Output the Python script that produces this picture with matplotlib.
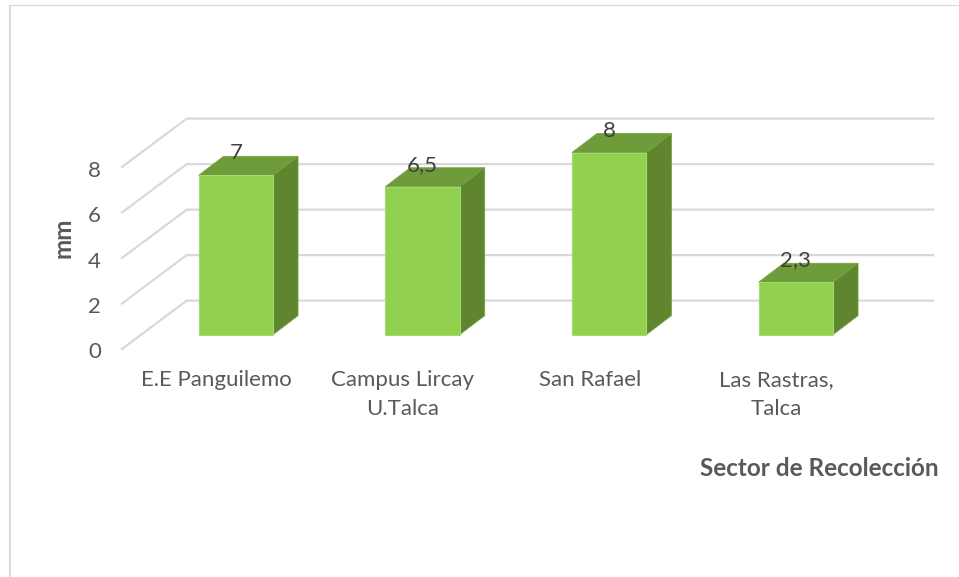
import matplotlib
matplotlib.use("Agg")
import matplotlib.pyplot as plt
from matplotlib.patches import Polygon

categories = ["E.E Panguilemo", "Campus Lircay\nU.Talca", "San Rafael", "Las Rastras,\nTalca"]
values = [7, 6.5, 8, 2.3]
value_labels = ["7", "6,5", "8", "2,3"]
y_ticks = [0, 2, 4, 6, 8]

W, H = 959, 577
plt.rcParams['font.family'] = ['Lato', 'DejaVu Sans']
fig = plt.figure(figsize=(W / 100, H / 100), dpi=100, facecolor="white")
ax = fig.add_axes([0, 0, 1, 1])

# Scales: one category = 186.67 px, one mm = 22.75 px
PX_CAT, PX_VAL = 186.67, 22.75
X0_PX, Y0_PX = 235.8, 349.0
ax.set_xlim((0 - X0_PX) / PX_CAT, (W - X0_PX) / PX_CAT)
ax.set_ylim((Y0_PX - H) / PX_VAL, Y0_PX / PX_VAL)
ax.axis("off")

def fx(px):
    return px / PX_CAT

def fy(px):
    return px / PX_VAL

# Floor / wall geometry
wall_left = (122 - X0_PX) / PX_CAT
wall_dx, wall_dy = fx(64.7), fy(48.4)
wall_right = (933 - X0_PX) / PX_CAT
GRID = "#d9d9d9"
for t in y_ticks:
    ax.plot([wall_left, wall_left + wall_dx, wall_right],
            [t, t + wall_dy, t + wall_dy],
            color=GRID, lw=1.6, solid_joinstyle="miter", zorder=1)
    ax.text(wall_left - fx(21), t - fy(3.5), str(t), ha="right", va="center",
            fontsize=16, color="#595959")

# 3D bars
half_w = fx(37.2)
bar_dx, bar_dy = fx(25), fy(19)
base = fy(14.4)
EDGE = "#a4dc6c"
for i, v in enumerate(values):
    l, r = i - half_w, i + half_w
    b, t = base, base + v
    ax.add_patch(Polygon([(r, b), (r + bar_dx, b + bar_dy), (r + bar_dx, t + bar_dy), (r, t)],
                         fc="#5f862f", ec="#6f9c3a", lw=0.6, zorder=3))
    ax.add_patch(Polygon([(l, t), (r, t), (r + bar_dx, t + bar_dy), (l + bar_dx, t + bar_dy)],
                         fc="#6f9c3a", ec="#76a340", lw=0.6, zorder=3))
    ax.add_patch(Polygon([(l, b), (r, b), (r, t), (l, t)],
                         fc="#92d050", ec=EDGE, lw=0.8, zorder=4))
    ax.text(i, t + fy(22), value_labels[i], ha="center", va="center",
            fontsize=16, color="#404040", zorder=5)
    ax.text(i - fx(19.5), fy(349 - 370.5), categories[i], ha="center", va="top",
            fontsize=16, color="#595959", linespacing=1.54, zorder=5)

# Axis titles
ax.text((63 - X0_PX) / PX_CAT, fy(349 - 238), "mm", rotation=90, ha="center", va="center",
        fontsize=17.5, fontweight="bold", color="#595959")
ax.text((939 - X0_PX) / PX_CAT, fy(349 - 468), "Sector de Recolección", ha="right", va="center",
        fontsize=17.5, fontweight="bold", color="#595959")

# Chart frame (left and top edges only)
fx_left = (10 - X0_PX) / PX_CAT
y_top = fy(349 - 4.5)
y_bot = fy(349 - 577)
ax.plot([fx_left, fx_left], [y_bot, y_top], color="#dcdcdc", lw=1.5, solid_capstyle="butt", clip_on=False)
ax.plot([fx_left, (W - X0_PX) / PX_CAT], [y_top, y_top], color="#dcdcdc", lw=0.9, solid_capstyle="butt", clip_on=False)

fig.savefig("out.png", dpi=100, facecolor="white")
